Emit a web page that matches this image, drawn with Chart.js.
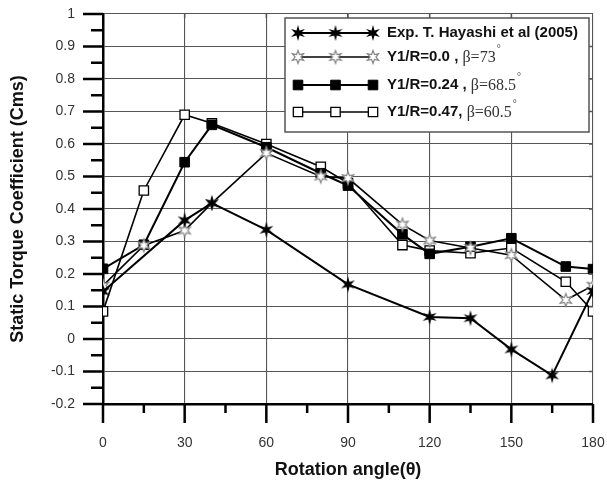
<!DOCTYPE html>
<html>
<head>
<meta charset="utf-8">
<script src="https://cdn.jsdelivr.net/npm/chart.js@4.4.0/dist/chart.umd.min.js"></script>
<style>
  html, body { margin: 0; padding: 0; background: #fff; }
</style>
</head>
<body>
<canvas id="torque" width="607" height="481"></canvas>
<script>
// values (rotation angle in degrees, Cms)
const expAngle = [0, 30, 40, 60, 90, 120, 135, 150, 165, 180]
const expCms = [0.146, 0.365, 0.418, 0.336, 0.168, 0.068, 0.064, -0.032, -0.112, 0.148]
const r00Angle = [0, 15, 30, 40, 60, 80, 90, 110, 120, 135, 150, 170, 180]
const r00Cms = [0.164, 0.288, 0.334, 0.418, 0.572, 0.500, 0.495, 0.352, 0.303, 0.280, 0.258, 0.120, 0.164]
const r24Angle = [0, 15, 30, 40, 60, 80, 90, 110, 120, 135, 150, 170, 180]
const r24Cms = [0.216, 0.290, 0.544, 0.659, 0.590, 0.510, 0.472, 0.322, 0.262, 0.284, 0.310, 0.223, 0.215]
const r47Angle = [0, 15, 30, 40, 60, 80, 90, 110, 120, 135, 150, 170, 180]
const r47Cms = [0.085, 0.457, 0.690, 0.664, 0.600, 0.530, 0.480, 0.289, 0.272, 0.264, 0.280, 0.176, 0.085]

const seriesNames = ['Exp. T. Hayashi et al (2005)', 'Y1/R=0.0', 'Y1/R=0.24', 'Y1/R=0.47']
const seriesSep = ['', ' , ', ' , ', ', ']
const betaValues = ['', '73', '68.5', '60.5']

const xMin = 0
const xMax = 180
const xStep = 30
const yMin = -0.2
const yMax = 1
const yStep = 0.1

const xTitle = 'Rotation angle(\u03b8)'
const yTitle = 'Static Torque Coefficient (Cms)'

function zip (xs, ys) {
  return xs.map(function (x, i) { return { x: x, y: ys[i] } })
}

function yLabel (v) {
  const r = Math.round(v * 10) / 10
  return r === 0 ? '0' : String(r)
}

function starImage (outer, inner, fill, stroke, lw) {
  const c = document.createElement('canvas')
  const s = Math.ceil(outer * 2 + lw * 2 + 2)
  c.width = s
  c.height = s
  const g = c.getContext('2d')
  g.translate(s / 2, s / 2)
  g.beginPath()
  for (let i = 0; i < 12; i++) {
    const r = i % 2 === 0 ? outer : inner
    const a = Math.PI / 6 * i - Math.PI / 2
    if (i === 0) g.moveTo(r * Math.cos(a), r * Math.sin(a))
    else g.lineTo(r * Math.cos(a), r * Math.sin(a))
  }
  g.closePath()
  g.fillStyle = fill
  g.fill()
  if (stroke) {
    g.strokeStyle = stroke
    g.lineWidth = lw
    g.stroke()
  }
  return c
}

const blackStar = starImage(8, 3, '#000', null, 0)
const hollowStar = starImage(6.5, 2.9, '#fff', '#888', 1.2)

// minor and major ticks on the outer side of both axes, small inward ticks on top / right
const axisTicks = {
  id: 'axisTicks',
  afterDraw (chart) {
    const ctx = chart.ctx
    const xs = chart.scales.x
    const ys = chart.scales.y
    const a = chart.chartArea
    ctx.save()
    ctx.strokeStyle = '#000'
    ctx.lineWidth = 2.5
    ctx.beginPath()
    for (let v = xMin; v <= xMax; v += xStep / 2) {
      const px = xs.getPixelForValue(v)
      const len = v % xStep === 0 ? 19 : 9
      ctx.moveTo(px, a.bottom)
      ctx.lineTo(px, a.bottom + len)
    }
    const n = Math.round((yMax - yMin) / (yStep / 2))
    for (let i = 0; i <= n; i++) {
      const py = ys.getPixelForValue(yMin + i * yStep / 2)
      const len = i % 2 === 0 ? 20 : 12
      ctx.moveTo(a.left, py)
      ctx.lineTo(a.left - len, py)
    }
    ctx.stroke()
    ctx.strokeStyle = '#555'
    ctx.lineWidth = 1.5
    ctx.beginPath()
    for (let v = xMin + xStep; v < xMax; v += xStep) {
      const px = xs.getPixelForValue(v)
      ctx.moveTo(px, a.top)
      ctx.lineTo(px, a.top + 4)
    }
    for (let i = 1; i < n / 2; i++) {
      const py = ys.getPixelForValue(yMin + i * yStep)
      ctx.moveTo(a.right, py)
      ctx.lineTo(a.right - 4, py)
    }
    ctx.stroke()
    ctx.restore()
  }
}

// boxed legend with three markers per entry
const boxLegend = {
  id: 'boxLegend',
  afterDraw (chart) {
    const ctx = chart.ctx
    const rows = [33, 57, 85, 112]
    const bx = 285
    const by = 18
    const bw = 304
    const bh = 114
    ctx.save()
    ctx.fillStyle = '#fff'
    ctx.fillRect(bx, by, bw, bh)
    ctx.strokeStyle = '#555'
    ctx.lineWidth = 1.5
    ctx.strokeRect(bx, by, bw, bh)
    chart.data.datasets.forEach(function (ds, i) {
      const y = rows[i]
      ctx.strokeStyle = ds.borderColor
      ctx.lineWidth = ds.borderWidth
      ctx.beginPath()
      ctx.moveTo(298, y)
      ctx.lineTo(373, y)
      ctx.stroke()
      ;[298, 335.5, 373].forEach(function (mx) {
        ctx.fillStyle = ds.pointBackgroundColor
        ctx.strokeStyle = ds.pointBorderColor
        ctx.lineWidth = ds.pointBorderWidth
        Chart.helpers.drawPoint(ctx, {
          pointStyle: ds.pointStyle,
          radius: ds.pointRadius,
          rotation: 0,
          borderWidth: ds.pointBorderWidth
        }, mx, y)
      })
      let tx = 387
      ctx.fillStyle = '#111'
      ctx.textBaseline = 'middle'
      ctx.textAlign = 'left'
      ctx.font = 'bold 15px "Liberation Sans", Arial, sans-serif'
      ctx.fillText(seriesNames[i], tx, y)
      tx += ctx.measureText(seriesNames[i]).width
      if (betaValues[i]) {
        ctx.fillText(seriesSep[i], tx, y)
        tx += ctx.measureText(seriesSep[i]).width
        ctx.fillStyle = '#333'
        ctx.font = '16px "Liberation Serif", "Times New Roman", serif'
        const b = '\u03b2=' + betaValues[i]
        ctx.fillText(b, tx, y + 1)
        tx += ctx.measureText(b).width + 1
        ctx.font = '10px "Liberation Serif", serif'
        ctx.fillText('\u00b0', tx, y - 8)
      }
    })
    ctx.restore()
  }
}

const ctx = document.getElementById('torque').getContext('2d')
const torqueChart = new Chart(ctx, {
  type: 'scatter',
  data: {
    datasets: [{
      label: seriesNames[0],
      data: zip(expAngle, expCms),
      showLine: true,
      borderColor: '#000',
      borderWidth: 2,
      pointStyle: blackStar,
      pointRadius: 8,
      pointBackgroundColor: '#000',
      pointBorderColor: '#000',
      pointBorderWidth: 0
    }, {
      label: seriesNames[1] + seriesSep[1] + '\u03b2=' + betaValues[1] + '\u00b0',
      data: zip(r00Angle, r00Cms),
      showLine: true,
      borderColor: '#000',
      borderWidth: 1.6,
      pointStyle: hollowStar,
      pointRadius: 7,
      pointBackgroundColor: '#fff',
      pointBorderColor: '#888',
      pointBorderWidth: 1
    }, {
      label: seriesNames[2] + seriesSep[2] + '\u03b2=' + betaValues[2] + '\u00b0',
      data: zip(r24Angle, r24Cms),
      showLine: true,
      borderColor: '#000',
      borderWidth: 2,
      pointStyle: 'rect',
      pointRadius: 6.8,
      pointBackgroundColor: '#000',
      pointBorderColor: '#000',
      pointBorderWidth: 1
    }, {
      label: seriesNames[3] + seriesSep[3] + '\u03b2=' + betaValues[3] + '\u00b0',
      data: zip(r47Angle, r47Cms),
      showLine: true,
      borderColor: '#000',
      borderWidth: 1.6,
      pointStyle: 'rect',
      pointRadius: 6.6,
      pointBackgroundColor: '#fff',
      pointBorderColor: '#000',
      pointBorderWidth: 1.3
    }]
  },
  options: {
    responsive: false,
    animation: false,
    devicePixelRatio: 1,
    layout: { padding: { top: 14, right: 14, left: 0, bottom: 0 } },
    plugins: {
      legend: { display: false },
      tooltip: { enabled: false }
    },
    scales: {
      x: {
        type: 'linear',
        min: xMin,
        max: xMax,
        afterFit: function (scale) {
          scale.height = 77
          scale.paddingLeft = 0
          scale.paddingRight = 0
        },
        ticks: {
          stepSize: xStep,
          padding: 31,
          color: '#333',
          font: { family: '"Liberation Sans", Arial, sans-serif', size: 14 }
        },
        grid: { color: '#555', lineWidth: 1.1, drawTicks: false },
        border: { display: true, color: '#000', width: 2.5 },
        title: {
          display: true,
          text: xTitle,
          color: '#111',
          padding: { top: 0, bottom: 0 },
          font: { family: '"Liberation Sans", Arial, sans-serif', size: 18, weight: 'bold' }
        }
      },
      y: {
        min: yMin,
        max: yMax,
        afterFit: function (scale) {
          scale.width = 103
          scale.paddingTop = 0
          scale.paddingBottom = 0
        },
        ticks: {
          stepSize: yStep,
          padding: 28,
          color: '#333',
          callback: yLabel,
          font: { family: '"Liberation Sans", Arial, sans-serif', size: 14 }
        },
        grid: { color: '#555', lineWidth: 1.1, drawTicks: false },
        border: { display: true, color: '#000', width: 2.5 },
        title: {
          display: true,
          text: yTitle,
          color: '#111',
          padding: { top: 7, bottom: 0 },
          font: { family: '"Liberation Sans", Arial, sans-serif', size: 18, weight: 'bold' }
        }
      }
    }
  },
  plugins: [axisTicks, boxLegend]
})
</script>
</body>
</html>
